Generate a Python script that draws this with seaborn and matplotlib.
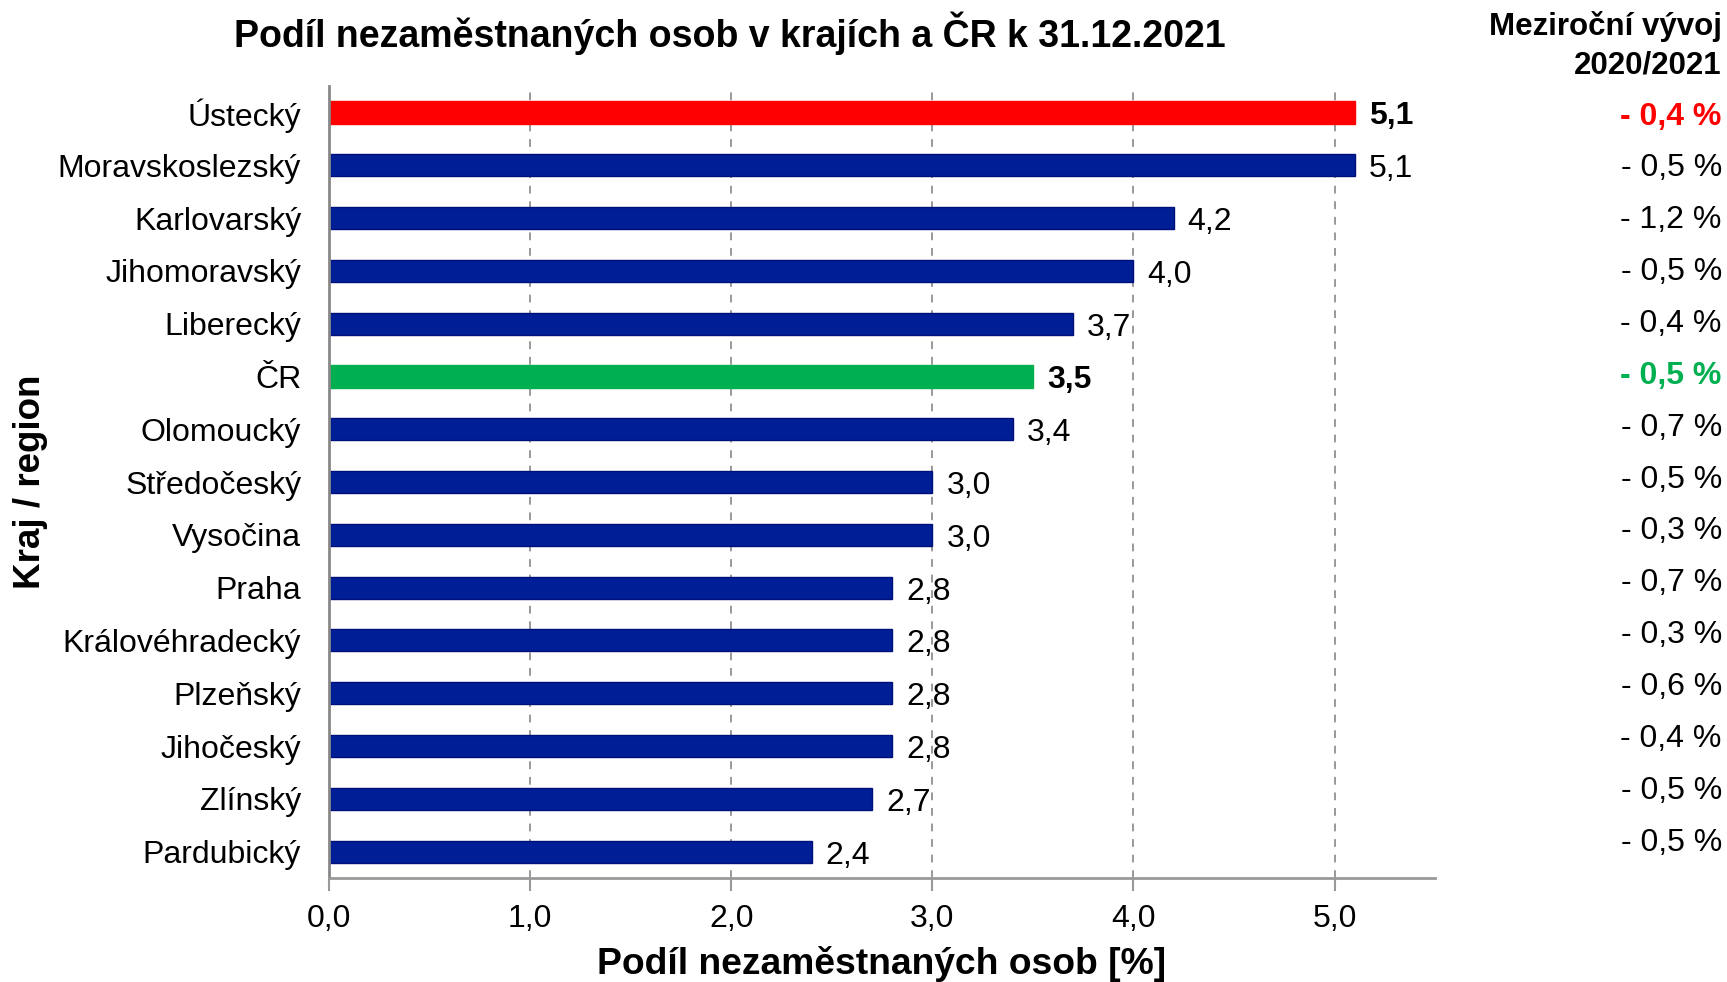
import matplotlib
matplotlib.use("Agg")
import matplotlib.pyplot as plt
import matplotlib.transforms as mtransforms
import seaborn as sns
import pandas as pd

regions = ["Ústecký", "Moravskoslezský", "Karlovarský", "Jihomoravský", "Liberecký",
           "ČR", "Olomoucký", "Středočeský", "Vysočina", "Praha", "Královéhradecký",
           "Plzeňský", "Jihočeský", "Zlínský", "Pardubický"]
shares = [5.1, 5.1, 4.2, 4.0, 3.7, 3.5, 3.4, 3.0, 3.0, 2.8, 2.8, 2.8, 2.8, 2.7, 2.4]
yoy = ["- 0,4 %", "- 0,5 %", "- 1,2 %", "- 0,5 %", "- 0,4 %", "- 0,5 %", "- 0,7 %",
       "- 0,5 %", "- 0,3 %", "- 0,7 %", "- 0,3 %", "- 0,6 %", "- 0,4 %", "- 0,5 %", "- 0,5 %"]
x_ticks = [0, 1, 2, 3, 4, 5]

NAVY = "#001E96"
RED = "#FF0000"
GREEN = "#00B050"
highlight = {"Ústecký": RED, "ČR": GREEN}
palette = {r: highlight.get(r, NAVY) for r in regions}

sns.set_theme(style="white")
plt.rcParams["font.family"] = ["Liberation Sans", "DejaVu Sans"]
plt.rcParams["text.color"] = "black"
plt.rcParams["axes.labelcolor"] = "black"
plt.rcParams["xtick.color"] = "black"
plt.rcParams["ytick.color"] = "black"

df = pd.DataFrame({"region": regions, "share": shares})

fig = plt.figure(figsize=(17.27, 9.82), dpi=100)
ax = fig.add_axes([0.1905, 0.1059, 0.6405, 0.8065])

sns.barplot(data=df, y="region", x="share", hue="region", palette=palette,
            order=regions, legend=False, width=0.42, ax=ax, saturation=1)
for p, r in zip(ax.patches, regions):
    c = highlight.get(r, NAVY)
    p.set_edgecolor("#00107A" if c == NAVY else c)
    p.set_linewidth(1.0)

ax.set_xlim(0, 5.5)
ax.set_ylim(len(regions) - 0.5, -0.5)
ax.set_xticks(x_ticks)
ax.set_xticklabels([f"{t:.1f}".replace(".", ",") for t in x_ticks], fontsize=23)
ax.tick_params(axis="x", length=9, width=1.5, color="#999999", labelcolor="black",
               pad=10, bottom=True)
ax.tick_params(axis="y", length=0, pad=20, labelsize=23, labelcolor="black")

ax.grid(axis="x", linestyle=(0, (4, 4)), color="#999999", linewidth=1.4)
ax.set_axisbelow(True)
for s in ["top", "right"]:
    ax.spines[s].set_visible(False)
ax.spines["left"].set_color("#888888")
ax.spines["left"].set_linewidth(2)
ax.spines["bottom"].set_color("#999999")
ax.spines["bottom"].set_linewidth(2)

ax.set_ylabel("")
ax.set_xlabel("")

for i, (r, v) in enumerate(zip(regions, shares)):
    bold = r in highlight
    ax.annotate(f"{v:.1f}".replace(".", ","), xy=(v, i), xytext=(14, -4),
                textcoords="offset pixels", va="center", ha="left", fontsize=23,
                fontweight="bold" if bold else "normal", color="black")

trans = mtransforms.blended_transform_factory(fig.transFigure, ax.transData)
for i, (r, t) in enumerate(zip(regions, yoy)):
    col = highlight.get(r, "black")
    bold = r in highlight
    ax.text(0.997, i + 0.08 - i * 0.018, t, transform=trans, ha="right", va="center",
            fontsize=23, fontweight="bold" if bold else "normal", color=col,
            clip_on=False)

fig.text(0.4227, 0.966, "Podíl nezaměstnaných osob v krajích a ČR k 31.12.2021",
         ha="center", va="center", fontsize=27, fontweight="bold", color="black")
fig.text(0.997, 0.9735, "Meziroční vývoj", ha="right", va="center",
         fontsize=22.5, fontweight="bold", color="black")
fig.text(0.997, 0.933, "2020/2021", ha="right", va="center",
         fontsize=22.5, fontweight="bold", color="black")
fig.text(0.5107, 0.0183, "Podíl nezaměstnaných osob [%]", ha="center", va="center",
         fontsize=26.8, fontweight="bold", color="black")
fig.text(0.0174, 0.509, "Kraj / region", ha="center", va="center", rotation=90,
         fontsize=26.5, fontweight="bold", color="black")

fig.savefig("out.png", dpi=100)
